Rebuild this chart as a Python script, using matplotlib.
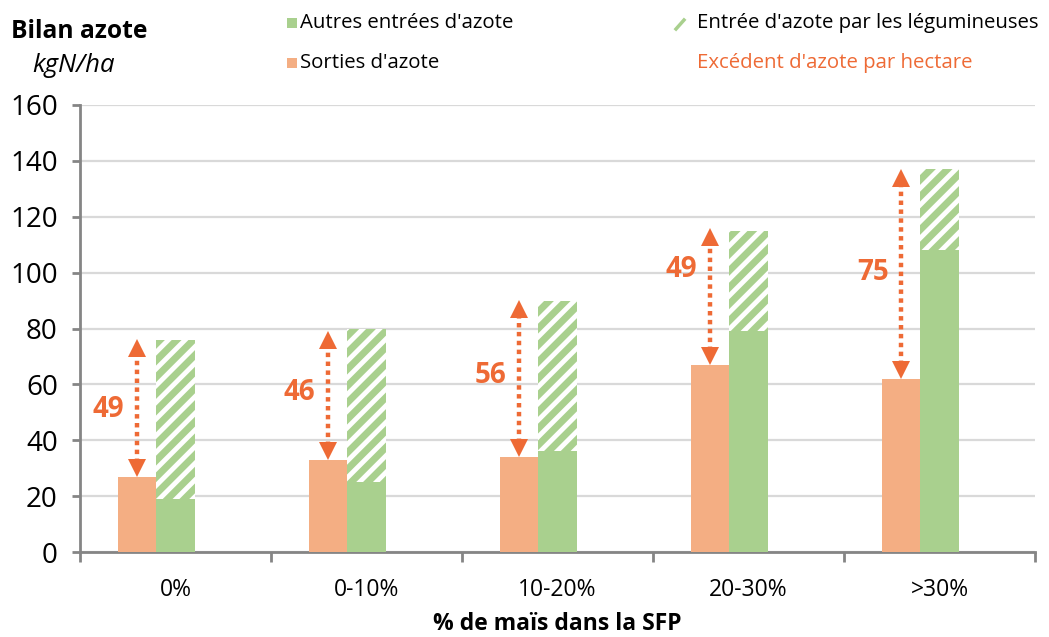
import matplotlib
matplotlib.use('Agg')
import matplotlib.pyplot as plt
import matplotlib.transforms as mtransforms
from matplotlib.patches import Rectangle
from matplotlib.lines import Line2D
import numpy as np

categories = ['0%', '0-10%', '10-20%', '20-30%', '>30%']
sorties = [27, 33, 34, 67, 62]
autres = [19, 25, 36, 79, 108]
legumineuses = [57, 55, 54, 36, 29]
excedent = [49, 46, 56, 49, 75]
# where the excess numbers sit on the y axis
label_y = [51, 57, 63, 101, 100]

ORANGE = '#F4AE83'
GREEN = '#A9D08E'
RED = '#EE6A35'
GRID = '#D9D9D9'
AXIS = '#858585'

plt.rcParams['font.family'] = ['Open Sans', 'DejaVu Sans']
plt.rcParams['hatch.linewidth'] = 5.0

fig = plt.figure(figsize=(10.49, 6.37), dpi=100)
ax = fig.add_axes([0.0763, 0.1334, 0.9104, 0.7018])

x = np.arange(len(categories))
w = 0.2

ax.bar(x - 0.2, sorties, w, color=ORANGE, zorder=3)
ax.bar(x, autres, w, color=GREEN, zorder=3)
ax.bar(x, legumineuses, w, bottom=autres, color='white', edgecolor=GREEN,
       hatch='//', linewidth=0, zorder=3)

# dotted double arrows for the nitrogen excess
ms = 12.5
half = ms / 2 / 72
up = ax.transData + mtransforms.ScaledTranslation(0, -half, fig.dpi_scale_trans)
down = ax.transData + mtransforms.ScaledTranslation(0, half, fig.dpi_scale_trans)
for i in range(len(categories)):
    xa = x[i] - 0.2
    y0 = sorties[i]
    y1 = sorties[i] + excedent[i]
    ax.plot([xa, xa], [y0 + 5, y1 - 5], color=RED, lw=3.2,
            linestyle=(0, (1, 1)), dash_capstyle='butt', zorder=4)
    ax.plot([xa], [y1], marker='^', ms=ms, color=RED, mew=0, transform=up, zorder=5)
    ax.plot([xa], [y0], marker='v', ms=ms, color=RED, mew=0, transform=down, zorder=5)
    ax.text(xa - 0.15, label_y[i], str(excedent[i]), color=RED, fontsize=20,
            fontweight='bold', ha='center', va='center', zorder=5)

ax.set_xlim(-0.5, len(categories) - 0.5)
ax.set_ylim(0, 160)
ax.set_yticks(np.arange(0, 161, 20))
ax.yaxis.grid(True, color=GRID, lw=1.6, zorder=0)
ax.set_axisbelow(True)

ax.set_xticks(np.arange(-0.5, len(categories), 1))
ax.set_xticklabels([])
ax.set_xticks(x, minor=True)
ax.set_xticklabels(categories, minor=True, fontsize=16.5)
ax.tick_params(axis='x', which='major', length=7, width=2, color=AXIS, direction='out')
ax.tick_params(axis='x', which='minor', length=0, pad=19)
ax.tick_params(axis='y', length=6, width=2, color=AXIS, labelsize=20, pad=10)

for s in ['top', 'right']:
    ax.spines[s].set_visible(False)
for s in ['left', 'bottom']:
    ax.spines[s].set_color(AXIS)
    ax.spines[s].set_linewidth(2)

ax.set_xlabel('% de maïs dans la SFP', fontsize=16.5, fontweight='bold', labelpad=7)

# titles at top left
fig.text(11 / 1049, 1 - 31 / 637, 'Bilan azote', fontsize=17.7, fontweight='bold', va='center')
fig.text(32 / 1049, 1 - 66 / 637, 'kgN/ha', fontsize=18.5, style='italic', va='center')

# legend built by hand to match the 2x2 layout
def legend_box(px, py, **kw):
    fig.patches.append(Rectangle((px / 1049, 1 - (py + 5) / 637), 10 / 1049, 10 / 637,
                                 transform=fig.transFigure, figure=fig, **kw))

legend_box(287, 23, color=GREEN, lw=0)
fig.text(300 / 1049, 1 - 23 / 637, "Autres entrées d'azote", fontsize=14.7, va='center')
legend_box(287, 63, color=ORANGE, lw=0)
fig.text(300 / 1049, 1 - 63 / 637, "Sorties d'azote", fontsize=14.7, va='center')
fig.lines.append(Line2D([676 / 1049, 684 / 1049], [1 - 29 / 637, 1 - 20 / 637],
                        transform=fig.transFigure, color=GREEN, lw=2.5, figure=fig))
fig.text(697 / 1049, 1 - 23 / 637, "Entrée d'azote par les légumineuses", fontsize=14.7, va='center')
fig.text(697 / 1049, 1 - 63 / 637, "Excédent d'azote par hectare", fontsize=14.7, va='center', color=RED)

fig.savefig('out.png', dpi=100)
